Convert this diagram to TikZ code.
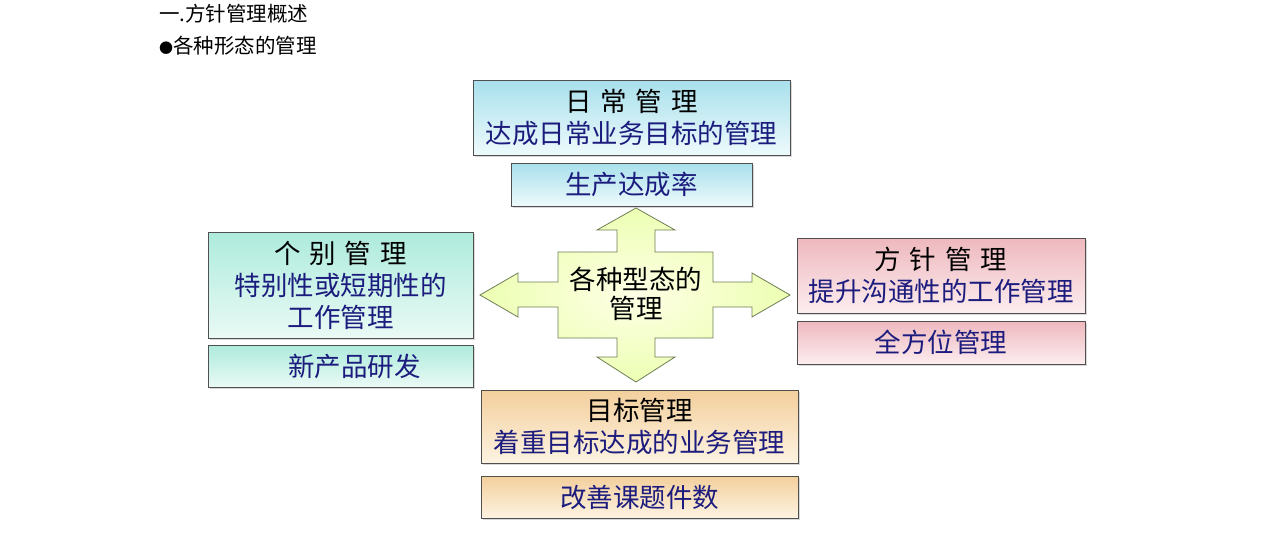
\documentclass[tikz,border=0pt]{standalone}
\usepackage{fontspec}
\newfontfamily\cjk{Noto Sans CJK SC}
\usetikzlibrary{shadows}
\definecolor{boxline}{HTML}{505050}
\definecolor{subtext}{HTML}{1C1C7E}
\definecolor{hubline}{HTML}{6E7E55}
\definecolor{cyantop}{HTML}{A8E0EC}
\definecolor{cyanbot}{HTML}{EEFAFC}
\definecolor{minttop}{HTML}{ADEBDC}
\definecolor{mintbot}{HTML}{EAFAF5}
\definecolor{pinktop}{HTML}{EEB8BE}
\definecolor{pinkbot}{HTML}{FCEDEF}
\definecolor{peachtop}{HTML}{F3CF9C}
\definecolor{peachbot}{HTML}{FDF3E2}
\begin{document}
\begin{tikzpicture}[x=1pt,y=-1pt,
    box/.style={draw=boxline,line width=0.8pt,inner sep=0pt,align=center,
      font=\cjk\fontsize{26.5}{32}\selectfont,
      drop shadow={shadow xshift=1.5pt,shadow yshift=-1.5pt,opacity=.3}},
    cyanfill/.style={top color=cyantop,bottom color=cyanbot},
    mintfill/.style={top color=minttop,bottom color=mintbot},
    pinkfill/.style={top color=pinktop,bottom color=pinkbot},
    peachfill/.style={top color=peachtop,bottom color=peachbot}]
  \useasboundingbox (0,0) rectangle (1280,544);
  \fill[white] (0,0) rectangle (1280,544);
  % heading
  \node[anchor=west,inner sep=0pt,font=\cjk\fontsize{20.5}{24}\selectfont] (title) at (159,14) {一.方针管理概述};
  \node[anchor=west,inner sep=0pt,font=\cjk\fontsize{20.5}{24}\selectfont] (bullet) at (159,46)
    {{\fontsize{14}{14}\selectfont ●}各种形态的管理};
  % centre cross
  \shadedraw[draw=hubline,line width=0.8pt,inner color=green!3!yellow!10,outer color=green!25!yellow!30]
    (636,208) -- (675,230) -- (655,230) -- (655,252) -- (713,252) -- (713,282)
    -- (752,282) -- (752,273) -- (790,295) -- (752,317) -- (752,307) -- (713,307)
    -- (713,338) -- (655,338) -- (655,357) -- (675,357) -- (636,382) -- (597,357)
    -- (617,357) -- (617,338) -- (558,338) -- (558,307) -- (518,307) -- (518,317)
    -- (480,295) -- (518,273) -- (518,282) -- (558,282) -- (558,252) -- (617,252)
    -- (617,230) -- (597,230) -- cycle;
  \node[align=center,font=\cjk\fontsize{26.5}{29}\selectfont] (hub) at (636,294) {各种型态的\\管理};
  % top
  \node[box,cyanfill,minimum width=317,minimum height=75] (daily) at (631.5,117.5)
    {日\hspace{9pt}常\hspace{9pt}管\hspace{9pt}理\\\textcolor{subtext}{达成日常业务目标的管理}};
  \node[box,cyanfill,minimum width=241,minimum height=43] (dailykpi) at (631.5,184.5)
    {\textcolor{subtext}{生产达成率}};
  % left
  \node[box,mintfill,minimum width=265,minimum height=106] (single) at (340.5,285)
    {个\hspace{9pt}别\hspace{9pt}管\hspace{9pt}理\\\textcolor{subtext}{特别性或短期性的}\\\textcolor{subtext}{工作管理}};
  \node[box,mintfill,minimum width=265,minimum height=42] (singlekpi) at (340.5,366)
    {\hspace*{28pt}\textcolor{subtext}{新产品研发}};
  % right
  \node[box,pinkfill,minimum width=288,minimum height=75] (policy) at (941,275.5)
    {方\hspace{9pt}针\hspace{9pt}管\hspace{9pt}理\\\textcolor{subtext}{提升沟通性的工作管理}};
  \node[box,pinkfill,minimum width=288,minimum height=43] (policykpi) at (941,342.5)
    {\textcolor{subtext}{全方位管理}};
  % bottom
  \node[box,peachfill,minimum width=317,minimum height=73] (target) at (639.5,426.5)
    {目标管理\\\textcolor{subtext}{着重目标达成的业务管理}};
  \node[box,peachfill,minimum width=317,minimum height=42] (targetkpi) at (639.5,497)
    {\textcolor{subtext}{改善课题件数}};
\end{tikzpicture}
\end{document}
